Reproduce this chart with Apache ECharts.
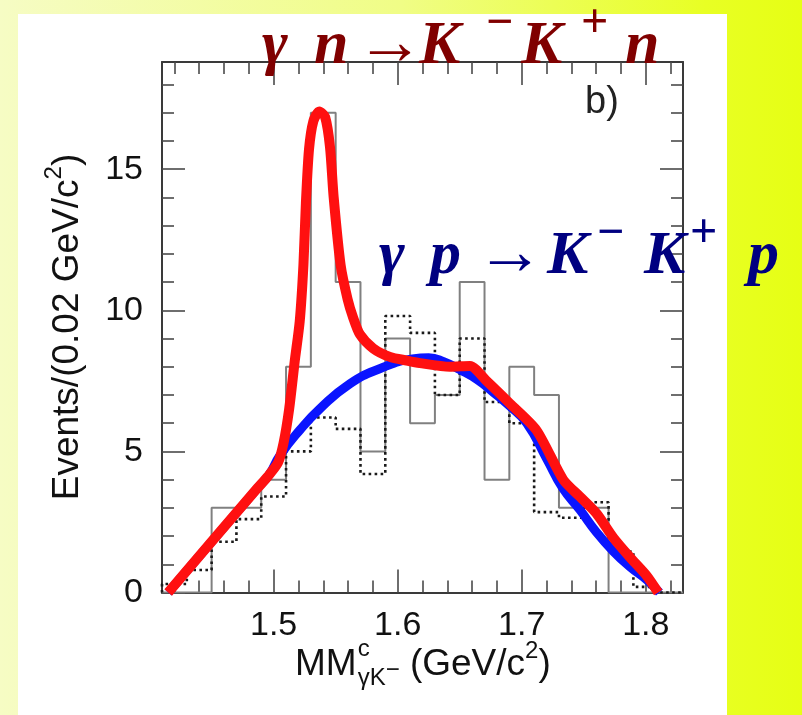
<!DOCTYPE html>
<html>
<head>
<meta charset="utf-8">
<script src="https://cdn.jsdelivr.net/npm/echarts@6/dist/echarts.min.js"></script>
<style>
  html, body { margin: 0; padding: 0; }
  #chart { width: 802px; height: 715px; }
</style>
</head>
<body>
<div id="chart"></div>
<script>
// Missing-mass histogram, 0.02 GeV/c^2 bins (bin centres)
const binCenters = [1.42, 1.44, 1.46, 1.48, 1.50, 1.52, 1.54, 1.56, 1.58, 1.60, 1.62,
                    1.64, 1.66, 1.68, 1.70, 1.72, 1.74, 1.76, 1.78, 1.80, 1.82];
const binWidth = 0.02;
// events per bin, solid histogram
const solidCounts = [0, 0, 3, 3, 4, 8, 17, 11, 5, 9, 6, 7, 11, 4, 8, 7, 3, 3, 0, 0, 0];
// events per bin, dotted histogram
const dottedCounts = [0.3, 0.8, 1.8, 2.6, 3.4, 5.0, 6.2, 5.8, 4.2, 9.8, 9.2, 7.0, 9.0, 6.75,
                      6.0, 2.85, 2.65, 3.2, 1.45, 0.2, 0];
// smooth shape for gamma p -> K- K+ p
const protonCurve = [[1.415, 0], [1.487, 3.7], [1.496, 4.15], [1.505, 4.85], [1.521, 5.75],
  [1.537, 6.5], [1.5615, 7.4], [1.586, 7.94], [1.612, 8.28], [1.625, 8.32], [1.637, 8.18],
  [1.650, 7.9], [1.664, 7.55], [1.677, 7.1], [1.690, 6.62], [1.704, 6.0], [1.720, 4.75],
  [1.733, 3.7], [1.747, 2.92], [1.760, 2.15], [1.774, 1.45], [1.787, 0.92], [1.801, 0.44],
  [1.811, 0]];
// shape with the narrow peak, gamma n -> K- K+ n
const neutronCurve = [[1.415, 0], [1.487, 3.7], [1.495, 4.1], [1.5035, 4.6], [1.508, 5.3],
  [1.5125, 6.5], [1.517, 8.2], [1.521, 9.6], [1.524, 11.6], [1.526, 13.8], [1.5285, 15.7],
  [1.532, 16.7], [1.5368, 17.05], [1.5415, 16.85], [1.5454, 15.8], [1.5484, 14.0],
  [1.554, 11.6], [1.5596, 10.4], [1.564, 9.75], [1.5695, 9.15], [1.5803, 8.65],
  [1.5937, 8.35], [1.6072, 8.22], [1.6179, 8.13], [1.6421, 8.0], [1.6582, 8.03],
  [1.6716, 7.5], [1.6904, 6.7], [1.7119, 5.75], [1.7334, 4.0], [1.7468, 3.4],
  [1.7603, 2.8], [1.7737, 1.95], [1.7872, 1.25], [1.8006, 0.6], [1.81, 0]];
const xMajorTicks = [1.5, 1.6, 1.7, 1.8];
const xMinorTicks = [1.42, 1.44, 1.46, 1.48, 1.52, 1.54, 1.56, 1.58, 1.62, 1.64, 1.66,
                     1.68, 1.72, 1.74, 1.76, 1.78, 1.82];
const yMajorTicks = [0, 5, 10, 15];
const yMinorTicks = [1, 2, 3, 4, 6, 7, 8, 9, 11, 12, 13, 14, 16, 17, 18];
const xRange = [1.41, 1.83];
const yRange = [0, 18.8];

const SANS = '"Liberation Sans", Arial, Helvetica, sans-serif';
const SERIF = '"Liberation Serif", "Times New Roman", serif';

// outline of a histogram as step points: rise at the first edge, fall at the last
function histSteps(centers, counts, width) {
  const pts = [[centers[0] - width / 2, 0]];
  centers.forEach((c, i) => pts.push([c - width / 2, counts[i]]));
  const last = centers[centers.length - 1] + width / 2;
  pts.push([last, counts[counts.length - 1]]);
  pts.push([last, 0]);
  return pts;
}

const measureCtx = document.createElement('canvas').getContext('2d');
function fontStr(p) {
  return (p.italic ? 'italic ' : '') + (p.bold ? 'bold ' : '') + p.size + 'px ' + p.family;
}
function textWidth(str, font) {
  measureCtx.font = font;
  return measureCtx.measureText(str).width;
}
// text pieces on a shared baseline; a piece may carry its own x, a rise, or reuse the previous start
function textRun(pieces, x0, baseline, color, z) {
  const els = [];
  let x = x0, prevStart = x0;
  pieces.forEach(p => {
    const font = fontStr(p);
    const start = p.x != null ? p.x : (p.stack ? prevStart : x);
    const y = baseline - (p.rise || 0) - 0.34 * p.size;
    els.push({
      type: 'text', x: start, y: y, z: z || 50, silent: true,
      style: { text: p.t, font: font, fill: p.color || color,
               align: 'left', verticalAlign: 'middle', textAlign: 'left', textVerticalAlign: 'middle' }
    });
    const w = textWidth(p.t, font);
    x = Math.max(x, start + w + (p.gap || 0));
    prevStart = start;
  });
  return { els: els, width: x - x0 };
}

// reaction labels
const rx = { family: SERIF, size: 62, bold: true, italic: true };
const rarrow = { family: SERIF, size: 68, bold: true };
const rsup = { family: SERIF, size: 48, bold: true };
const upper = textRun([
  Object.assign({ t: 'γ', x: 262 }, rx),
  Object.assign({ t: 'n', x: 314 }, rx),
  Object.assign({ t: '→', x: 356, rise: -2 }, rarrow),
  Object.assign({ t: 'K', x: 419 }, rx),
  Object.assign({ t: '−', x: 486, rise: 27 }, rsup),
  Object.assign({ t: 'K', x: 521 }, rx),
  Object.assign({ t: '+', x: 581, rise: 27 }, rsup),
  Object.assign({ t: 'n', x: 625 }, rx)
], 0, 68, '#800000');
const lower = textRun([
  Object.assign({ t: 'γ', x: 379 }, rx),
  Object.assign({ t: 'p', x: 430 }, rx),
  Object.assign({ t: '→', x: 476, rise: -2 }, rarrow),
  Object.assign({ t: 'K', x: 547 }, rx),
  Object.assign({ t: '−', x: 597, rise: 27 }, rsup),
  Object.assign({ t: 'K', x: 644 }, rx),
  Object.assign({ t: '+', x: 690, rise: 27 }, rsup),
  Object.assign({ t: 'p', x: 748 }, rx)
], 0, 278, '#000080');

// axis titles
const base = { family: SANS, size: 37 };
const small = { family: SANS, size: 24 };
const xTitle = textRun([
  Object.assign({ t: 'MM', gap: 1 }, base),
  Object.assign({ t: 'c', rise: 19 }, small),
  Object.assign({ t: 'γK', rise: -10, stack: true }, small),
  Object.assign({ t: '−', rise: -2 }, small),
  Object.assign({ t: ' (GeV/c' }, base),
  Object.assign({ t: '2', rise: 17 }, small),
  Object.assign({ t: ')' }, base)
], 295, 677, '#111');
const yPieces = [
  Object.assign({ t: 'Events/(0.02 GeV/c' }, base),
  Object.assign({ t: '2', rise: 17 }, small),
  Object.assign({ t: ')' }, base)
];
const yRunW = textRun(yPieces, 0, 0, '#111').width;
const yTitle = textRun(yPieces, -yRunW / 2, 0, '#111');

const frame = { color: '#3a3a3a', width: 2 };
const tickStyle = { color: '#4a4a4a', width: 1.6 };

function xAxisDef(position, ticks, len, labels, line) {
  return {
    type: 'value', position: position, min: xRange[0], max: xRange[1],
    axisLine: { show: line, onZero: false, lineStyle: frame },
    axisTick: { show: true, inside: true, length: len, customValues: ticks, lineStyle: tickStyle },
    axisLabel: labels ? { show: true, customValues: ticks, fontSize: 34, fontFamily: SANS,
                          color: '#111', margin: 16, formatter: v => v.toFixed(1) }
                      : { show: false },
    splitLine: { show: false }, minorTick: { show: false }
  };
}
function yAxisDef(position, ticks, len, labels, line) {
  return {
    type: 'value', position: position, min: yRange[0], max: yRange[1],
    axisLine: { show: line, onZero: false, lineStyle: frame },
    axisTick: { show: true, inside: true, length: len, customValues: ticks, lineStyle: tickStyle },
    axisLabel: labels ? { show: true, customValues: ticks, fontSize: 34, fontFamily: SANS,
                          color: '#111', margin: 19 }
                      : { show: false },
    splitLine: { show: false }, minorTick: { show: false }
  };
}

const chart = echarts.init(document.getElementById('chart'), null, { renderer: 'canvas' });
chart.setOption({
  animation: false,
  backgroundColor: new echarts.graphic.LinearGradient(0, 0, 1, 0, [
    { offset: 0, color: '#f6fcc4' },
    { offset: 0.5, color: '#f0fd86' },
    { offset: 0.88, color: '#e8ff24' },
    { offset: 1, color: '#e6ff14' }
  ]),
  grid: { left: 162, right: 119, top: 62, bottom: 122.5, containLabel: false },
  xAxis: [
    xAxisDef('bottom', xMajorTicks, 23, true, true),
    xAxisDef('top', xMajorTicks, 23, false, true),
    xAxisDef('bottom', xMinorTicks, 12, false, false),
    xAxisDef('top', xMinorTicks, 12, false, false)
  ],
  yAxis: [
    yAxisDef('left', yMajorTicks, 23, true, true),
    yAxisDef('right', yMajorTicks, 23, false, true),
    yAxisDef('left', yMinorTicks, 12, false, false),
    yAxisDef('right', yMinorTicks, 12, false, false)
  ],
  series: [
    {
      name: 'solid', type: 'line', step: 'end', symbol: 'none', z: 2,
      data: histSteps(binCenters, solidCounts, binWidth),
      lineStyle: { color: '#808080', width: 2 }
    },
    {
      name: 'dotted', type: 'line', step: 'end', symbol: 'none', z: 3,
      data: histSteps(binCenters, dottedCounts, binWidth),
      lineStyle: { color: '#1a1a1a', width: 2.6, type: [2.6, 3.4] }
    },
    {
      name: 'γp→K−K+p', type: 'line', smooth: 0.5, symbol: 'none', z: 4,
      data: protonCurve,
      lineStyle: { color: '#0a14ff', width: 9, cap: 'butt', join: 'round' }
    },
    {
      name: 'γn→K−K+n', type: 'line', smooth: 0.25, symbol: 'none', z: 5,
      data: neutronCurve,
      lineStyle: { color: '#ff1010', width: 10, cap: 'butt', join: 'round' }
    }
  ],
  graphic: [
    { type: 'rect', z: -10, silent: true, shape: { x: 18, y: 14, width: 709, height: 701 },
      style: { fill: '#ffffff' } },
    { type: 'text', x: 585, y: 103, z: 50, silent: true,
      style: { text: 'b)', font: '38px ' + SANS, fill: '#222', align: 'left', verticalAlign: 'middle' } },
    { type: 'group', x: 80, y: 327, rotation: Math.PI / 2, z: 50, children: yTitle.els }
  ].concat(xTitle.els, upper.els, lower.els)
});
</script>
</body>
</html>
